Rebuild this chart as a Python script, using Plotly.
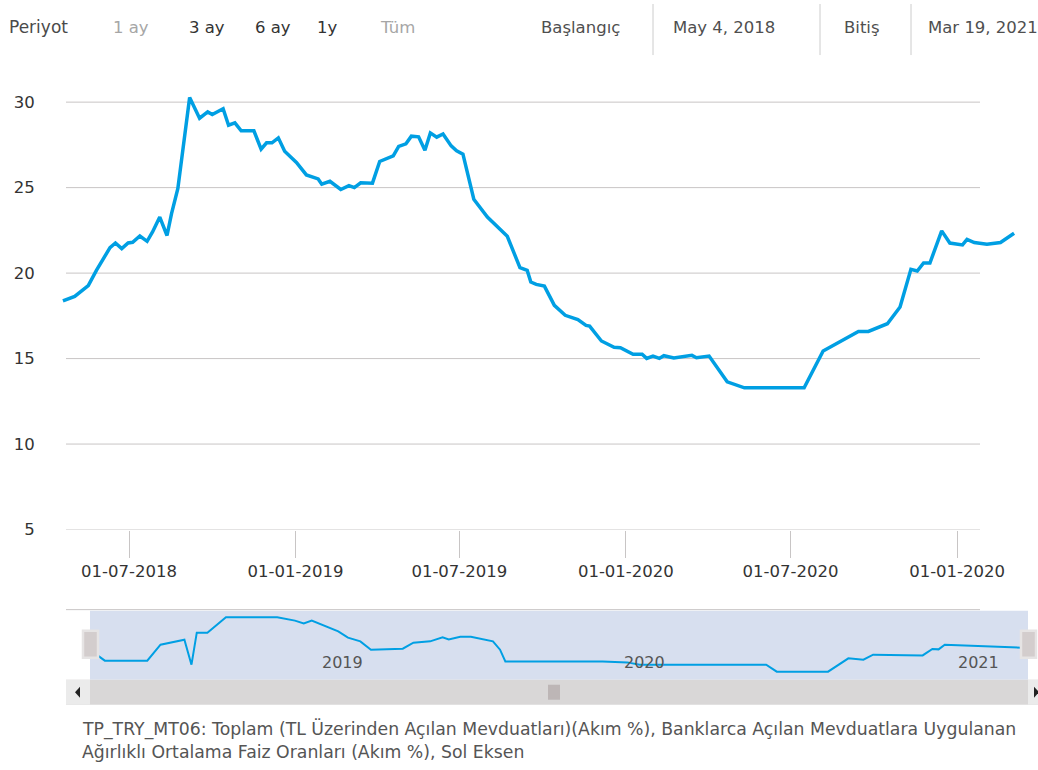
import plotly.graph_objects as go

W, H = 1038, 770
# the photographed page is slightly taller than the figure and gets squeezed
# vertically to 770 px; reference pixel rows are stretched by this factor
SY = 1 / 0.986


def fx(p):
    return p / W


def fy(p):
    return 1 - (p * SY) / H


# ---------------- data ----------------
main_dates = [
    "2018-04-19", "2018-05-02", "2018-05-17", "2018-05-26", "2018-06-10", "2018-06-16",
    "2018-06-23", "2018-06-30", "2018-07-05", "2018-07-13", "2018-07-21", "2018-07-27",
    "2018-08-04", "2018-08-12", "2018-08-17", "2018-08-24", "2018-09-06", "2018-09-17",
    "2018-09-26", "2018-10-01", "2018-10-13", "2018-10-19", "2018-10-26", "2018-11-02",
    "2018-11-16", "2018-11-24", "2018-11-30", "2018-12-06", "2018-12-13", "2018-12-20",
    "2019-01-02", "2019-01-13", "2019-01-26", "2019-01-30", "2019-02-08", "2019-02-20",
    "2019-03-01", "2019-03-07", "2019-03-14", "2019-03-27", "2019-04-04", "2019-04-19",
    "2019-04-25", "2019-05-03", "2019-05-09", "2019-05-17", "2019-05-24", "2019-05-30",
    "2019-06-06", "2019-06-13", "2019-06-22", "2019-06-28", "2019-07-05", "2019-07-17",
    "2019-08-01", "2019-08-23", "2019-09-06", "2019-09-14", "2019-09-18", "2019-09-24",
    "2019-10-03", "2019-10-14", "2019-10-26", "2019-11-09", "2019-11-18", "2019-11-22",
    "2019-12-05", "2019-12-19", "2019-12-26", "2020-01-09", "2020-01-19", "2020-01-24",
    "2020-01-31", "2020-02-07", "2020-02-12", "2020-02-23", "2020-03-14", "2020-03-19",
    "2020-04-02", "2020-04-22", "2020-05-11", "2020-07-16", "2020-08-06", "2020-09-14",
    "2020-09-25", "2020-10-16", "2020-10-30", "2020-11-11", "2020-11-18", "2020-11-25",
    "2020-12-02", "2020-12-15", "2020-12-24", "2021-01-07", "2021-01-12", "2021-01-20",
    "2021-02-03", "2021-02-11", "2021-02-18", "2021-03-05",
]
main_values = [
    18.37, 18.64, 19.27, 20.16, 21.49, 21.76,
    21.43, 21.76, 21.80, 22.17, 21.86, 22.41,
    23.28, 22.20, 23.48, 24.95, 30.27, 29.06,
    29.43, 29.28, 29.61, 28.65, 28.79, 28.32,
    28.32, 27.25, 27.62, 27.62, 27.91, 27.13,
    26.47, 25.74, 25.51, 25.20, 25.37, 24.89,
    25.12, 25.00, 25.28, 25.26, 26.53, 26.86,
    27.41, 27.56, 28.01, 27.97, 27.19, 28.20,
    27.95, 28.14, 27.44, 27.15, 26.96, 24.32,
    23.28, 22.15, 20.32, 20.16, 19.48, 19.34,
    19.24, 18.11, 17.53, 17.28, 16.94, 16.90,
    16.03, 15.66, 15.64, 15.25, 15.25, 15.01,
    15.15, 15.01, 15.17, 15.04, 15.19, 15.05,
    15.15, 13.64, 13.29, 13.29, 15.44, 16.59,
    16.59, 17.04, 18.02, 20.22, 20.12, 20.59,
    20.59, 22.47, 21.76, 21.65, 21.97, 21.79,
    21.69, 21.77, 21.79, 22.33,
]

x_tick_dates = ["2018-07-01", "2019-01-01", "2019-07-01", "2020-01-01", "2020-07-01", "2021-01-01"]
x_tick_labels = ["01-07-2018", "01-01-2019", "01-07-2019", "01-01-2020", "01-07-2020", "01-01-2020"]
y_ticks = [5, 10, 15, 20, 25, 30]

nav_dates = [
    "2018-05-04", "2018-05-17", "2018-07-04", "2018-07-19", "2018-08-15", "2018-08-23",
    "2018-08-29", "2018-09-10", "2018-10-01", "2018-11-28", "2018-12-18", "2018-12-28",
    "2019-01-06", "2019-01-23", "2019-02-05", "2019-02-16", "2019-03-02", "2019-03-14",
    "2019-04-19", "2019-05-01", "2019-05-20", "2019-06-03", "2019-06-10", "2019-06-23",
    "2019-07-05", "2019-07-30", "2019-08-07", "2019-08-13", "2019-12-01", "2019-12-29",
    "2020-01-12", "2020-06-03", "2020-06-15", "2020-08-12", "2020-09-04", "2020-09-21",
    "2020-10-02", "2020-11-27", "2020-12-08", "2020-12-15", "2020-12-22", "2021-03-19",
]
nav_values = [
    27.3, 19, 19, 35, 40, 15,
    47, 47, 62.3, 62.3, 59, 56.3,
    59, 53, 48.3, 42, 38.3, 30,
    31, 37, 38.3, 42.3, 40.3, 43,
    43, 38.3, 30, 18.3, 18.3, 17.3,
    15, 15, 8, 8, 21.3, 20,
    25, 24.3, 30.7, 30.3, 35, 32,
]
nav_year_labels = ["2019", "2020", "2021"]

period_label = "Periyot"
period_buttons = ["1 ay", "3 ay", "6 ay", "1y", "Tüm"]
start_caption, start_label = "Başlangıç", "May 4, 2018"
end_caption, end_label = "Bitiş", "Mar 19, 2021"
footnote_lines = [
    "TP_TRY_MT06: Toplam (TL Üzerinden Açılan Mevduatları)(Akım %), Banklarca Açılan Mevduatlara Uygulanan",
    "Ağırlıklı Ortalama Faiz Oranları (Akım %), Sol Eksen",
]

# ---------------- styles ----------------
FONT = "DejaVu Sans"
BLUE = "#009fe3"
GRID = "#c8c5c5"

fig = go.Figure()
fig.add_trace(go.Scatter(
    x=main_dates, y=main_values, mode="lines",
    line=dict(color=BLUE, width=3.5), xaxis="x", yaxis="y",
    hoverinfo="x+y", showlegend=False,
))
fig.add_trace(go.Scatter(
    x=nav_dates, y=nav_values, mode="lines",
    line=dict(color=BLUE, width=2), xaxis="x2", yaxis="y2",
    hoverinfo="skip", showlegend=False,
))

shapes = []
for v in y_ticks:
    shapes.append(dict(type="line", xref="paper", yref="y", x0=fx(66), x1=fx(980),
                       y0=v, y1=v, line=dict(color=GRID, width=1), layer="below"))
shapes.append(dict(type="line", xref="paper", yref="paper", x0=fx(66), x1=fx(980),
                   y0=fy(609), y1=fy(609), line=dict(color=GRID, width=1)))
shapes.append(dict(type="rect", xref="paper", yref="paper", x0=fx(90), x1=fx(1028),
                   y0=fy(679), y1=fy(610), fillcolor="rgba(102,133,194,0.26)",
                   line=dict(width=0), layer="below"))
shapes.append(dict(type="rect", xref="paper", yref="paper", x0=fx(66), x1=fx(1038),
                   y0=fy(704), y1=fy(679), fillcolor="#d9d7d7", line=dict(width=0)))
shapes.append(dict(type="rect", xref="paper", yref="paper", x0=fx(66), x1=fx(90),
                   y0=fy(704), y1=fy(679), fillcolor="#ebebeb", line=dict(width=0)))
shapes.append(dict(type="rect", xref="paper", yref="paper", x0=fx(1028), x1=fx(1038),
                   y0=fy(704), y1=fy(679), fillcolor="#ebebeb", line=dict(width=0)))
shapes.append(dict(type="path", xref="paper", yref="paper",
                   path=f"M {fx(80)} {fy(686)} L {fx(75)} {fy(691.5)} L {fx(80)} {fy(697)} Z",
                   fillcolor="#222", line=dict(width=0)))
shapes.append(dict(type="path", xref="paper", yref="paper",
                   path=f"M {fx(1034)} {fy(686)} L {fx(1039)} {fy(691.5)} L {fx(1034)} {fy(697)} Z",
                   fillcolor="#222", line=dict(width=0)))
shapes.append(dict(type="rect", xref="paper", yref="paper", x0=fx(548), x1=fx(560),
                   y0=fy(699), y1=fy(684), fillcolor="#bdb6b6", line=dict(width=0)))
for hx in (83, 1021):
    shapes.append(dict(type="rect", xref="paper", yref="paper", x0=fx(hx), x1=fx(hx + 15),
                       y0=fy(657), y1=fy(630), fillcolor="#d3cdcd",
                       line=dict(color="#e6e4e4", width=2.5)))
for sx in (653, 820, 911):
    shapes.append(dict(type="line", xref="paper", yref="paper", x0=fx(sx), x1=fx(sx),
                       y0=fy(55), y1=fy(4), line=dict(color="#cccccc", width=1)))

annotations = []


def txt(text, x, y, color, size, anchor="left"):
    annotations.append(dict(text=text, x=fx(x), y=fy(y), xref="paper", yref="paper",
                            xanchor=anchor, yanchor="middle", showarrow=False,
                            font=dict(family=FONT, size=size, color=color)))


txt(period_label, 7, 27, "#4a4a4a", 17)
btn_x = [111, 187, 253, 315, 378]
btn_c = ["#a6a6a6", "#333333", "#333333", "#333333", "#a6a6a6"]
for t, x, c in zip(period_buttons, btn_x, btn_c):
    txt(t, x, 27, c, 16.5)
txt(start_caption, 539, 27, "#4f4f4f", 16.5)
txt(start_label, 671, 27, "#4f4f4f", 16.5)
txt(end_caption, 842, 27, "#4f4f4f", 16.5)
txt(end_label, 926, 27, "#4f4f4f", 16.5)

for t, x in zip(nav_year_labels, [320, 622, 956]):
    txt(t, x, 662, "#555555", 16)

txt(footnote_lines[0], 80, 728, "#555555", 17.3)
txt(footnote_lines[1], 80, 751, "#555555", 17.3)

fig.update_layout(
    width=W, height=H,
    margin=dict(l=0, r=0, t=0, b=0, pad=0),
    paper_bgcolor="white", plot_bgcolor="rgba(0,0,0,0)",
    font=dict(family=FONT, color="#333333"),
    showlegend=False,
    shapes=shapes,
    annotations=annotations,
    xaxis=dict(
        domain=[fx(58), fx(1025)],
        range=["2018-04-13 13:00", "2021-03-17 01:30"],
        type="date",
        tickvals=x_tick_dates, ticktext=x_tick_labels,
        ticks="outside", ticklen=27, tickcolor=GRID, tickwidth=1,
        tickfont=dict(family=FONT, size=16.5, color="#333333"),
        showgrid=False, showline=False, zeroline=False,
        anchor="y", fixedrange=True,
    ),
    yaxis=dict(
        domain=[fy(529), fy(80)],
        range=[5, 31.29],
        tickvals=y_ticks,
        ticks="outside", ticklen=19, tickcolor="rgba(0,0,0,0)",
        tickfont=dict(family=FONT, size=16.5, color="#333333"),
        showgrid=False, showline=False, zeroline=False,
        anchor="x", fixedrange=True,
    ),
    xaxis2=dict(
        domain=[fx(66), fx(1030)],
        range=["2018-04-03 02:00", "2021-03-28 10:00"],
        type="date", visible=False, anchor="y2", fixedrange=True,
    ),
    yaxis2=dict(
        domain=[fy(679), fy(610)],
        range=[0, 69],
        visible=False, anchor="x2", fixedrange=True,
    ),
)

fig.write_html("out.html")
